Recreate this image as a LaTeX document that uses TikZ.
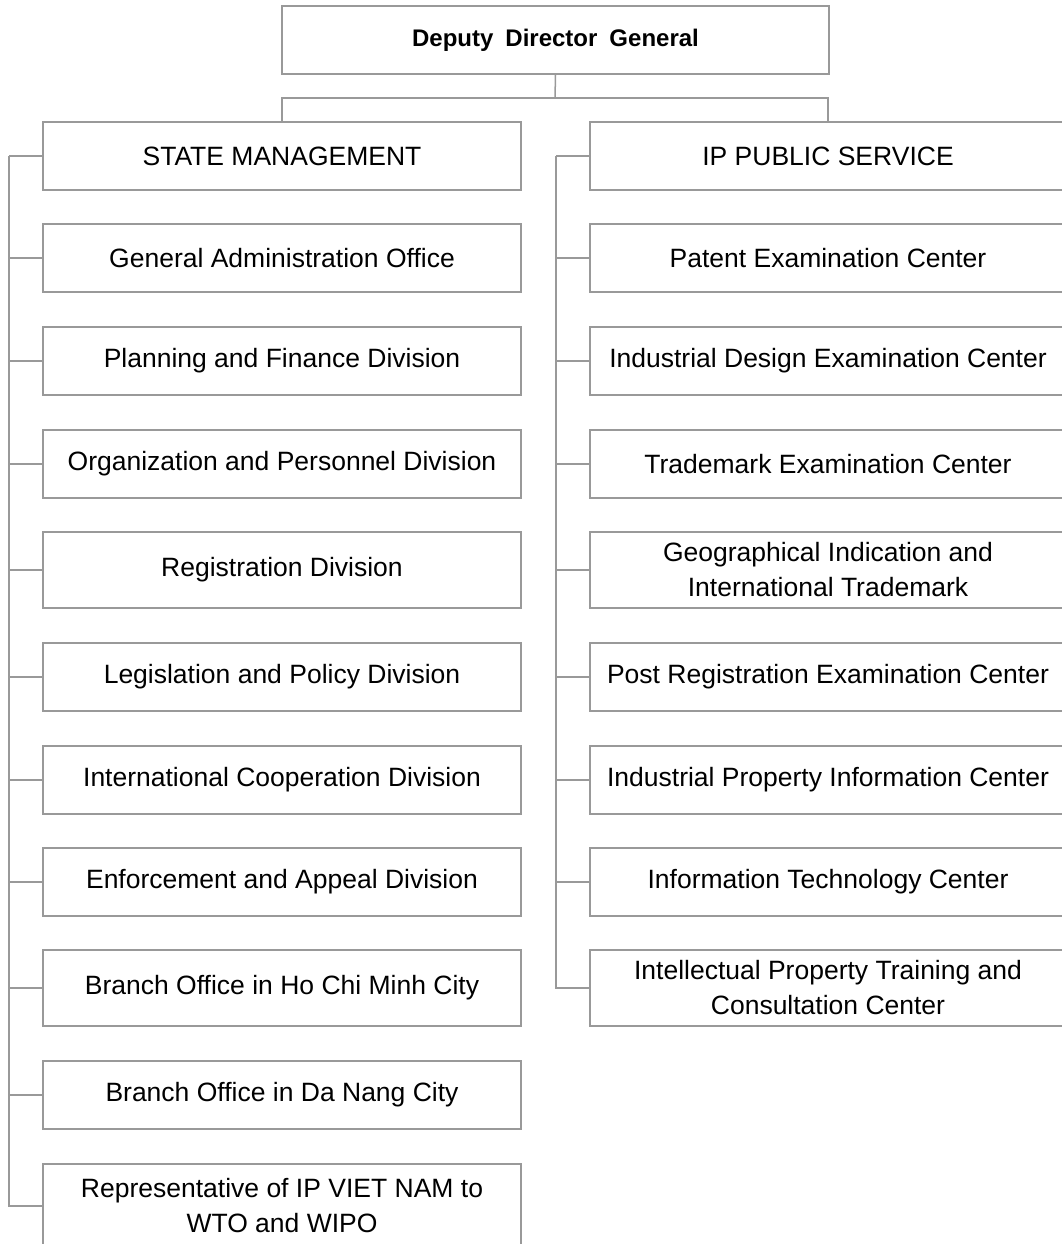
\documentclass[tikz,border=0pt]{standalone}
\usepackage{fontspec}
\setmainfont{Liberation Sans}
\definecolor{linegray}{gray}{0.6}
\begin{document}
\begin{tikzpicture}[x=1pt, y=-1pt,
    box/.style={draw=linegray, line width=1.5pt, inner sep=0pt, align=center,
      font=\fontsize{26.5}{35}\selectfont},
    lbox/.style={box, minimum width=478pt, minimum height=68pt},
    rbox/.style={box, minimum width=476pt, minimum height=68pt},
    tall/.style={minimum height=76pt},
    link/.style={draw=linegray, line width=1.5pt}]
        \useasboundingbox (0,0) rectangle (1062,1244);

        % Nodes
        \node(ddg) [box, minimum width=547pt, minimum height=68pt,
          font=\fontsize{24}{29}\selectfont\bfseries] at (555.5,40) {\spaceskip 0.5em Deputy Director General};

        \node(sm)  [lbox] at (282,156) {STATE MANAGEMENT};
        \node(gao) [lbox] at (282,258) {General Administration Office};
        \node(pfd) [lbox] at (282,361) {Planning and Finance Division};
        \node(opd) [lbox] at (282,464) {Organization and Personnel Division};
        \node(reg) [lbox, tall] at (282,570) {Registration Division};
        \node(lpd) [lbox] at (282,677) {Legislation and Policy Division};
        \node(icd) [lbox] at (282,780) {International Cooperation Division};
        \node(ead) [lbox] at (282,882) {Enforcement and Appeal Division};
        \node(hcm) [lbox, tall] at (282,988) {Branch Office in Ho Chi Minh City};
        \node(dnc) [lbox] at (282,1095) {Branch Office in Da Nang City};
        \node(rep) [lbox, minimum height=84pt] at (282,1206) {Representative of IP VIET NAM to\\WTO and WIPO};

        \node(ps)  [rbox] at (828,156) {IP PUBLIC SERVICE};
        \node(pec) [rbox] at (828,258) {Patent Examination Center};
        \node(idc) [rbox] at (828,361) {Industrial Design Examination Center};
        \node(tec) [rbox] at (828,464) {Trademark Examination Center};
        \node(gii) [rbox, tall] at (828,570) {Geographical Indication and\\International Trademark};
        \node(prc) [rbox] at (828,677) {Post Registration Examination Center};
        \node(ipc) [rbox] at (828,780) {Industrial Property Information Center};
        \node(itc) [rbox] at (828,882) {Information Technology Center};
        \node(ipt) [rbox, tall] at (828,988) {Intellectual Property Training and\\Consultation Center};

        \coordinate(jn) at (555,98);
        \coordinate(lt) at (9,156);
        \coordinate(rt) at (556,156);

        % Edges
        \draw[link] (ddg.south) -- (jn);
        \draw[link] (jn) -| (sm.north);
        \draw[link] (jn) -| (ps.north);
        \foreach \n in {sm,gao,pfd,opd,reg,lpd,icd,ead,hcm,dnc,rep}
          \draw[link] (lt) |- (\n.west);
        \foreach \n in {ps,pec,idc,tec,gii,prc,ipc,itc,ipt}
          \draw[link] (rt) |- (\n.west);

    \end{tikzpicture}
\end{document}
